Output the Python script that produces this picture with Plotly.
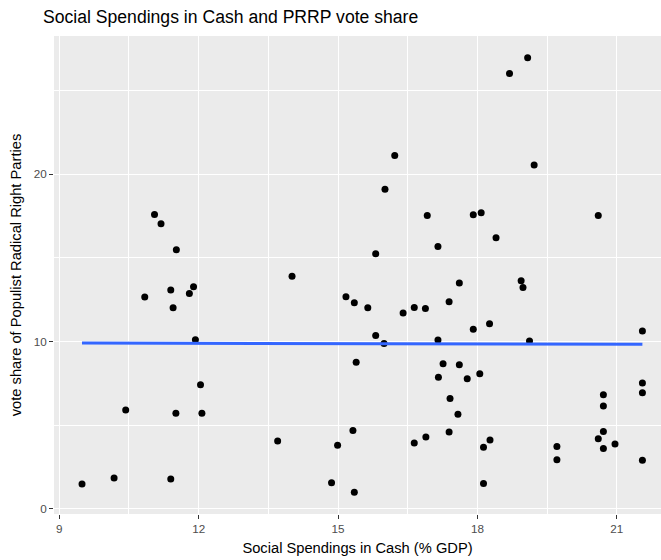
import numpy as np
import plotly.graph_objects as go

# Social spending in cash (% of GDP) and populist radical right vote share
cash_spending = [
    9.49, 10.18, 10.43, 10.84, 11.05, 11.19, 11.40, 11.40, 11.45, 11.51,
    11.52, 11.80, 11.89, 11.93, 12.04, 12.07, 13.70, 14.01, 14.86, 14.99,
    15.17, 15.32, 15.35, 15.35, 15.39, 15.64, 15.81, 15.81, 15.99, 16.01,
    16.22, 16.40, 16.64, 16.64, 16.88, 16.89, 16.92, 17.15, 17.15, 17.16,
    17.26, 17.39, 17.39, 17.41, 17.58, 17.61, 17.61, 17.78, 17.91, 17.91,
    18.05, 18.08, 18.13, 18.13, 18.26, 18.27, 18.40, 18.69, 18.94, 18.98,
    19.08, 19.12, 19.22, 19.71, 19.71, 20.60, 20.60, 20.71, 20.71, 20.71,
    20.71, 20.96, 21.55, 21.55, 21.55, 21.55,
]
prrp_share = [
    1.47, 1.83, 5.90, 12.65, 17.59, 17.04, 13.07, 1.77, 12.01, 5.70,
    15.48, 12.87, 13.27, 10.10, 7.41, 5.70, 4.05, 13.89, 1.55, 3.79,
    12.67, 4.68, 12.31, 0.98, 8.75, 12.01, 15.24, 10.36, 9.88, 19.09,
    21.12, 11.70, 12.03, 3.93, 11.97, 4.28, 17.53, 15.68, 10.08, 7.85,
    8.67, 12.37, 4.58, 6.59, 5.64, 13.49, 8.61, 7.77, 17.57, 10.72,
    8.07, 17.69, 3.67, 1.51, 11.06, 4.11, 16.20, 26.02, 13.63, 13.23,
    26.96, 10.02, 20.54, 3.71, 2.93, 17.53, 4.18, 6.81, 6.14, 4.62,
    3.59, 3.87, 10.62, 7.51, 6.93, 2.89,
]

x_ticks = [9, 12, 15, 18, 21]
y_ticks = [0, 10, 20]

x = np.array(cash_spending)
y = np.array(prrp_share)

# Linear fit across the observed range of spending
slope, intercept = np.polyfit(x, y, 1)
fit_x = np.array([x.min(), x.max()])
fit_y = intercept + slope * fit_x

# ggplot-style 5% expansion of the data range
def expanded(lo, hi, mult=0.05):
    d = hi - lo
    return lo - mult * d, hi + mult * d

x_lo, x_hi = expanded(x.min(), x.max())
y_lo, y_hi = expanded(y.min(), y.max())

fig = go.Figure()
fig.add_trace(go.Scatter(
    x=cash_spending, y=prrp_share, mode="markers",
    marker=dict(color="black", size=7, line=dict(width=0)),
    hoverinfo="x+y", showlegend=False,
))
fig.add_trace(go.Scatter(
    x=fit_x, y=fit_y, mode="lines",
    line=dict(color="#3366FF", width=3),
    showlegend=False,
))

tick_font = dict(family="Liberation Sans, Arial, sans-serif", size=11.7, color="#4D4D4D")
title_font = dict(family="Liberation Sans, Arial, sans-serif", size=14.7, color="black")

fig.update_layout(
    width=661, height=560,
    margin=dict(l=54, r=0, t=36, b=46),
    paper_bgcolor="white",
    plot_bgcolor="#EBEBEB",
    font=dict(family="Liberation Sans, Arial, sans-serif"),
    title=dict(
        text="Social Spendings in Cash and PRRP vote share",
        font=dict(family="Liberation Sans, Arial, sans-serif", size=17.6, color="black"),
        xref="container", yref="container",
        x=43 / 661, xanchor="left",
        y=1 - 17 / 560, yanchor="middle",
    ),
    xaxis=dict(
        range=[x_lo, 21.95],
        tickmode="array", tickvals=x_ticks, ticktext=[str(t) for t in x_ticks],
        ticks="outside", ticklen=4, tickwidth=1, tickcolor="#333333",
        tickfont=tick_font,
        showgrid=True, gridcolor="white", gridwidth=1.1,
        minor=dict(tickmode="array", tickvals=[10.5, 13.5, 16.5, 19.5],
                   showgrid=True, gridcolor="white", gridwidth=0.55, ticks=""),
        zeroline=False, showline=False,
        title=dict(text="Social Spendings in Cash (% GDP)", font=title_font, standoff=8),
    ),
    yaxis=dict(
        range=[y_lo, y_hi],
        tickmode="array", tickvals=y_ticks, ticktext=[str(t) for t in y_ticks],
        ticks="outside", ticklen=4, tickwidth=1, tickcolor="#333333",
        tickfont=tick_font,
        showgrid=True, gridcolor="white", gridwidth=1.1,
        minor=dict(tickmode="array", tickvals=[5, 15, 25],
                   showgrid=True, gridcolor="white", gridwidth=0.55, ticks=""),
        zeroline=False, showline=False,
        title=dict(text="vote share of Populist Radical Right Parties", font=title_font, standoff=8),
    ),
)

fig.write_html("out.html")
